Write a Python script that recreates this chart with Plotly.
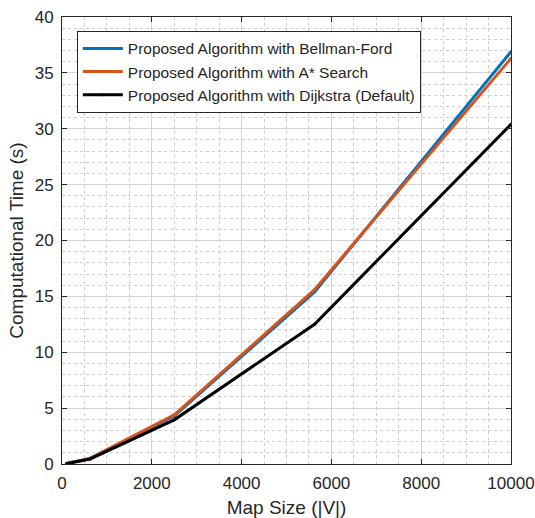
import plotly.graph_objects as go

map_size = [100, 625, 2500, 5625, 10000]
bellman_ford = [0.05, 0.5, 4.3, 15.4, 36.9]
a_star = [0.05, 0.5, 4.4, 15.6, 36.3]
dijkstra = [0.02, 0.45, 3.95, 12.5, 30.4]

series = [
    ("Proposed Algorithm with Bellman-Ford", bellman_ford, "#0072BD"),
    ("Proposed Algorithm with A* Search", a_star, "#D95319"),
    ("Proposed Algorithm with Dijkstra (Default)", dijkstra, "#000000"),
]

fig = go.Figure()
for name, vals, col in series:
    fig.add_trace(go.Scatter(x=map_size, y=vals, name=name, mode="lines+markers",
                             line=dict(color=col, width=3), marker=dict(size=3, color=col)))

font = "Liberation Sans, Arial, sans-serif"
axis_common = dict(
    showline=True, linecolor="#262626", linewidth=1, mirror="ticks",
    ticks="inside", ticklen=5, tickcolor="#262626",
    showgrid=True, gridcolor="#d4d4d4", gridwidth=1,
    zeroline=False, automargin=False, ticklabelstandoff=4,
    tickfont=dict(family=font, size=17, color="#262626"),
)
fig.update_xaxes(range=[0, 10000], dtick=2000, tickformat="d",
                 minor=dict(dtick=500, showgrid=True, gridcolor="#cfcfcf", griddash="dot", gridwidth=1),
                 title=dict(text="Map Size (|V|)", font=dict(family=font, size=19, color="#262626"), standoff=8),
                 **axis_common)
fig.update_yaxes(range=[0, 40], dtick=5,
                 minor=dict(dtick=1, showgrid=True, gridcolor="#cfcfcf", griddash="dot", gridwidth=1),
                 title=dict(text="Computational Time (s)", font=dict(family=font, size=19, color="#262626"), standoff=6),
                 **axis_common)
fig.update_layout(
    width=535, height=518,
    margin=dict(l=62, r=24, t=17, b=54),
    plot_bgcolor="white", paper_bgcolor="white",
    legend=dict(x=0.033, y=0.969, xanchor="left", yanchor="top",
                bgcolor="white", bordercolor="#262626", borderwidth=1,
                font=dict(family=font, size=15.5, color="#262626"),
                tracegroupgap=0, itemwidth=40),
    showlegend=True,
)
fig.write_html("out.html")
